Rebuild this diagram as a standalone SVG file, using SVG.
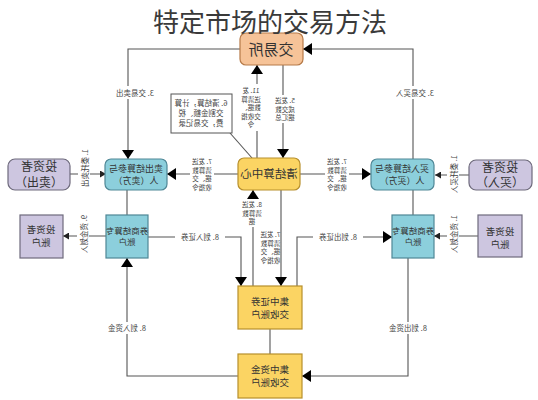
<svg xmlns="http://www.w3.org/2000/svg" width="538" height="400" viewBox="0 0 538 400">
<style>
text{font-family:"Noto Sans CJK SC","Noto Sans",sans-serif;fill:#333;text-anchor:middle}
.t{font-size:26px;fill:#3a3a3a}
.s{font-size:7.5px;fill:#444}
.m{font-size:6.5px;fill:#444}
.b9{font-size:9px}
.cy{fill:#8ccfdc;stroke:#4f8796;stroke-width:1.2}
.pu{fill:#cdc6e0;stroke:#6e6a7c;stroke-width:1.2}
.ye{fill:#fbd463;stroke:#b78f2c;stroke-width:1.2}
.pe{fill:#f6c398;stroke:#b67a48;stroke-width:1.2}
.ln{fill:none;stroke:#555;stroke-width:1.1}
.bg{fill:#fff}
</style>
<defs>
<marker id="big" markerUnits="userSpaceOnUse" markerWidth="9" markerHeight="12" refX="9" refY="6" orient="auto"><path d="M0,0L9,6L0,12z" fill="#000"/></marker>
<marker id="sm" markerUnits="userSpaceOnUse" markerWidth="6" markerHeight="7" refX="6" refY="3.5" orient="auto"><path d="M0,0L6,3.5L0,7z" fill="#222"/></marker>
</defs>
<rect width="538" height="400" fill="#fff"/>

<g id="connectors">
<path class="ln" d="M240,49H128V159" marker-end="url(#big)"/>
<path class="ln" d="M413,159V49H303" marker-end="url(#big)"/>
<path class="ln" d="M257,158V65" marker-end="url(#big)"/>
<path class="ln" d="M283,65V158" marker-end="url(#big)"/>
<path class="ln" d="M230,133L252,158"/>
<path class="ln" d="M238,174H167" marker-end="url(#big)"/>
<path class="ln" d="M300,174H371" marker-end="url(#big)"/>
<path class="ln" d="M70,174H106" marker-end="url(#sm)"/>
<path class="ln" d="M469,175H435" marker-end="url(#sm)"/>
<path class="ln" d="M127,190V215"/>
<path class="ln" d="M413,190V215"/>
<path class="ln" d="M106,236H63" marker-end="url(#sm)"/>
<path class="ln" d="M478,236H434" marker-end="url(#sm)"/>
<path class="ln" d="M148,237H241V286" marker-end="url(#big)"/>
<path class="ln" d="M297,286V237H392" marker-end="url(#big)"/>
<path class="ln" d="M253,286V190" marker-end="url(#big)"/>
<path class="ln" d="M281,190V286" marker-end="url(#big)"/>
<path class="ln" d="M270,329V354"/>
<path class="ln" d="M238,376H127V258" marker-end="url(#big)"/>
<path class="ln" d="M408,258V376H302" marker-end="url(#big)"/>
</g>

<g id="labels">
<rect class="bg" x="112" y="86" width="46" height="13"/>
<text class="s" transform="scale(-1,1)" x="-135" y="96">3. 交易卖出</text>
<rect class="bg" x="392" y="86" width="46" height="13"/>
<text class="s" transform="scale(-1,1)" x="-415" y="96">3. 交易买入</text>
<rect class="bg" x="241" y="84" width="21" height="47"/>
<text class="m" transform="scale(-1,1)"><tspan x="-251" y="93">11. 发</tspan><tspan x="-251" y="101.5">送清算</tspan><tspan x="-251" y="110">数据、</tspan><tspan x="-251" y="118.5">交收指</tspan><tspan x="-251" y="127">令</tspan></text>
<rect class="bg" x="274" y="95" width="22" height="28"/>
<text class="m" transform="scale(-1,1)"><tspan x="-285" y="103">5. 发送</tspan><tspan x="-285" y="111.5">成交数</tspan><tspan x="-285" y="120">据汇总</tspan></text>
<rect class="bg" x="190" y="157" width="24" height="35"/>
<text class="m" transform="scale(-1,1)"><tspan x="-202" y="164">7. 发送</tspan><tspan x="-202" y="172.5">清算数</tspan><tspan x="-202" y="181">据、交</tspan><tspan x="-202" y="189.5">收指令</tspan></text>
<rect class="bg" x="325" y="157" width="24" height="35"/>
<text class="m" transform="scale(-1,1)"><tspan x="-337" y="164">7. 发送</tspan><tspan x="-337" y="172.5">清算数</tspan><tspan x="-337" y="181">据、交</tspan><tspan x="-337" y="189.5">收指令</tspan></text>
<rect class="bg" x="242" y="199" width="21" height="28"/>
<text class="m" transform="scale(-1,1)"><tspan x="-252" y="207">8. 发送</tspan><tspan x="-252" y="215.5">清算数</tspan><tspan x="-252" y="224">据</tspan></text>
<rect class="bg" x="261" y="230" width="19" height="36"/>
<text class="m" transform="scale(-1,1)"><tspan x="-270.5" y="237">7. 发送</tspan><tspan x="-270.5" y="245.5">清算数</tspan><tspan x="-270.5" y="254">据、交</tspan><tspan x="-270.5" y="262.5">收指令</tspan></text>
<rect class="bg" x="175" y="231" width="50" height="12"/>
<text class="s" transform="scale(-1,1)" x="-200" y="240">8. 划入证券</text>
<rect class="bg" x="313" y="231" width="50" height="12"/>
<text class="s" transform="scale(-1,1)" x="-338" y="240">8. 划出证券</text>
<rect class="bg" x="103" y="322" width="48" height="12"/>
<text class="s" transform="scale(-1,1)" x="-127" y="331">8. 划入资金</text>
<rect class="bg" x="384" y="322" width="48" height="12"/>
<text class="s" transform="scale(-1,1)" x="-408" y="331">8. 划出资金</text>
<rect class="bg" x="78" y="148" width="12" height="40"/>
<text class="s" transform="translate(84,168) scale(-1,1) rotate(90)" dominant-baseline="central">1. 委托卖出</text>
<rect class="bg" x="77" y="214" width="12" height="40"/>
<text class="s" transform="translate(83,234) scale(-1,1) rotate(90)" dominant-baseline="central">9. 资金划入</text>
<rect class="bg" x="447" y="154" width="12" height="40"/>
<text class="s" transform="translate(453,174) scale(-1,1) rotate(90)" dominant-baseline="central">1. 委托买入</text>
<rect class="bg" x="447" y="214" width="12" height="40"/>
<text class="s" transform="translate(453,234) scale(-1,1) rotate(90)" dominant-baseline="central">1. 资金划入</text>
</g>

<g id="callout">
<rect x="171" y="94" width="61" height="39" fill="#fff" stroke="#555" stroke-width="1"/>
<text class="s" transform="scale(-1,1)"><tspan x="-201" y="106">6. 清结算，计算</tspan><tspan x="-201" y="116">交割金额、税</tspan><tspan x="-201" y="126">费，交易记录</tspan></text>
</g>

<g id="exchange">
<rect class="pe" x="240" y="33" width="63" height="32" rx="6"/>
<text transform="scale(-1,1)" x="-271" y="55" style="font-size:15px">交易所</text>
</g>
<g id="clearing">
<rect class="ye" x="238" y="158" width="62" height="32" rx="6"/>
<text transform="scale(-1,1)" x="-269" y="178" style="font-size:11.5px">清结算中心</text>
</g>
<g id="seller-member">
<rect class="cy" x="105" y="159" width="62" height="31" rx="6"/>
<text class="b9" transform="scale(-1,1)"><tspan x="-136" y="172">卖出结算参与</tspan><tspan x="-136" y="183.5">人（卖方）</tspan></text>
</g>
<g id="buyer-member">
<rect class="cy" x="371" y="159" width="63" height="31" rx="6"/>
<text class="b9" transform="scale(-1,1)"><tspan x="-402" y="172">买入结算参与</tspan><tspan x="-402" y="183.5">人（买方）</tspan></text>
</g>
<g id="seller-investor">
<rect class="pu" x="8" y="159" width="62" height="31" rx="7"/>
<text transform="scale(-1,1)" style="font-size:12px"><tspan x="-39" y="171">投资者</tspan><tspan x="-39" y="186.5">（卖出）</tspan></text>
</g>
<g id="buyer-investor">
<rect class="pu" x="469" y="160" width="63" height="30" rx="7"/>
<text transform="scale(-1,1)" style="font-size:12px"><tspan x="-500" y="171.5">投资者</tspan><tspan x="-500" y="187">（买入）</tspan></text>
</g>
<g id="seller-broker-account">
<rect class="cy" x="106" y="215" width="42" height="43"/>
<text transform="scale(-1,1)" style="font-size:8.5px"><tspan x="-127" y="234">券商结算专</tspan><tspan x="-127" y="245">账户</tspan></text>
</g>
<g id="buyer-broker-account">
<rect class="cy" x="392" y="215" width="42" height="43"/>
<text transform="scale(-1,1)" style="font-size:8.5px"><tspan x="-413" y="234">券商结算专</tspan><tspan x="-413" y="245">账户</tspan></text>
</g>
<g id="seller-investor-account">
<rect class="pu" x="20" y="215" width="43" height="43"/>
<text transform="scale(-1,1)" style="font-size:9.5px"><tspan x="-41" y="233">投资者</tspan><tspan x="-41" y="246">账户</tspan></text>
</g>
<g id="buyer-investor-account">
<rect class="pu" x="478" y="215" width="44" height="42"/>
<text transform="scale(-1,1)" style="font-size:9.5px"><tspan x="-500" y="235">投资者</tspan><tspan x="-500" y="248">账户</tspan></text>
</g>
<g id="securities-account">
<rect class="ye" x="238" y="286" width="64" height="43"/>
<text transform="scale(-1,1)" style="font-size:9.5px"><tspan x="-270" y="305">集中证券</tspan><tspan x="-270" y="318">交收账户</tspan></text>
</g>
<g id="funds-account">
<rect class="ye" x="238" y="354" width="64" height="44"/>
<text transform="scale(-1,1)" style="font-size:9.5px"><tspan x="-270" y="373">集中资金</tspan><tspan x="-270" y="386">交收账户</tspan></text>
</g>

<text class="t" x="270" y="32">特定市场的交易方法</text>
</svg>
